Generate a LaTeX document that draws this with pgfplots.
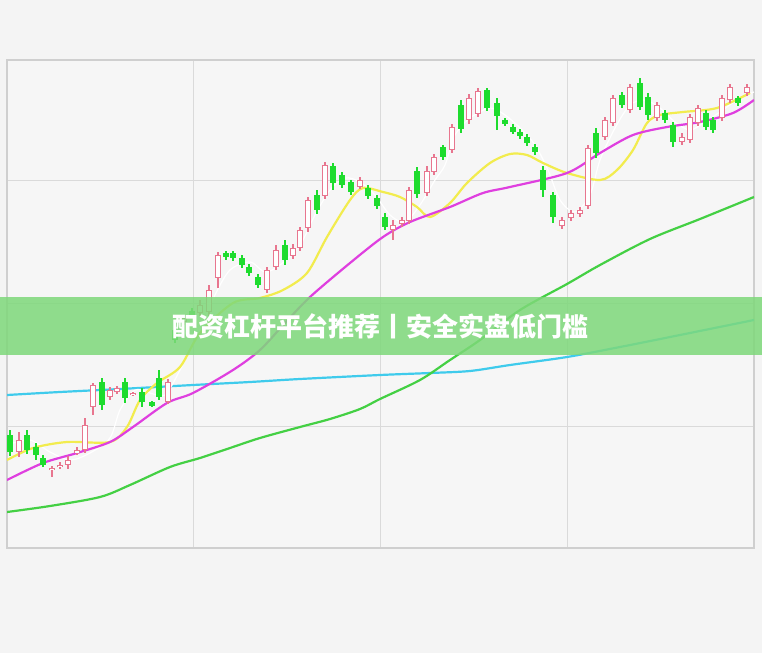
\documentclass[border=0pt]{standalone}
\usepackage{pgfplots}
\pgfplotsset{compat=1.18}
\usepackage{pgfplotstable}
\usepackage{fontspec}
\newfontfamily\cjk{Noto Sans CJK SC}

\definecolor{bgc}{HTML}{F4F4F4}
\definecolor{plotbg}{HTML}{F6F6F6}
\definecolor{framec}{HTML}{CFCFCF}
\definecolor{gridc}{HTML}{DADADA}
\definecolor{upc}{HTML}{E8768F}
\definecolor{downc}{HTML}{1EDC2E}
\definecolor{ma5}{HTML}{FFFFFF}
\definecolor{ma10}{HTML}{F2EC4E}
\definecolor{ma20}{HTML}{DF3FDF}
\definecolor{ma60}{HTML}{44D044}
\definecolor{ma120}{HTML}{3FCBEC}
\definecolor{bannerc}{HTML}{7ED87A}

% candles in pixel units: x, body top, body bottom, wick top, wick bottom
\pgfplotstableread{
x top bot hi lo
19 440 452 432 457
52 468 470 466 477
60 465 467 462 469
68 460 465 456 469
77 450 453 447 455
85 425 450 418 453
93 385 407 383 415
110 390 397 387 400
117 388 392 386 394
133 393 395 392 396
168 382 402 379 404
184 318 322 315 325
200 305 313 300 316
209 290 312 285 316
218 255 278 252 288
267 270 290 267 293
276 250 267 245 270
293 248 256 244 259
300 230 248 227 251
308 200 228 197 232
325 165 196 162 199
360 180 187 177 189
393 225 230 220 240
402 220 224 217 227
409 190 221 187 224
427 171 193 166 196
434 157 172 154 175
452 127 150 124 153
469 98 120 94 124
478 91 114 88 117
562 220 226 217 229
571 213 218 210 221
580 210 214 207 217
588 148 206 145 209
605 120 137 117 140
613 98 123 95 126
630 87 110 84 113
657 105 118 102 121
682 137 142 133 145
690 117 140 114 143
698 108 123 105 126
722 98 118 95 121
730 87 100 84 103
747 87 93 84 96
}\up

\pgfplotstableread{
x top bot hi lo
10 435 452 430 456
27 435 450 430 454
36 447 455 443 460
43 458 465 455 467
102 382 405 378 410
125 382 398 378 403
142 392 402 388 407
152 403 405 401 407
159 378 397 370 400
175 330 340 326 343
192 311 315 308 318
226 253 257 251 260
233 253 258 251 261
242 258 265 255 268
249 267 273 264 276
258 277 285 274 288
285 245 260 240 265
317 195 210 190 214
333 166 183 163 190
342 175 185 172 188
351 182 192 180 195
368 188 196 185 199
377 198 206 195 209
385 217 227 213 230
417 171 194 167 198
443 147 157 145 160
461 105 129 100 133
487 90 108 88 111
497 103 116 98 130
505 120 124 118 126
513 127 132 124 134
520 132 136 129 139
527 137 143 134 146
535 147 152 144 155
543 170 190 166 197
553 195 217 192 223
596 133 153 128 158
622 95 105 92 108
640 83 107 78 110
648 97 115 93 120
665 113 120 110 123
673 125 142 122 147
706 113 127 110 130
713 120 130 117 133
738 98 103 96 106
}\down

\begin{document}
\begin{tikzpicture}[x=1pt,y=1pt]
\fill[bgc] (0,0) rectangle (762,653);
\begin{axis}[
  at={(7pt,105pt)}, anchor=south west,
  scale only axis, width=747pt, height=488pt,
  xmin=7, xmax=754, ymin=60, ymax=548, y dir=reverse,
  axis background/.style={fill=plotbg},
  axis line style={draw=framec, line width=1.6pt},
  xtick={193,380,567}, ytick={180,303,426},
  xticklabels={}, yticklabels={},
  major tick length=0pt,
  grid=major, major grid style={draw=gridc, line width=1pt},
  clip=true,
  candle/.style={draw=none, mark=none, forget plot,
    error bars/y dir=both, error bars/y explicit, error bars/error mark=none},
]
% moving averages
\addplot[ma120, line width=2.2pt, smooth] coordinates {
(7,395) (60,392) (120,389) (193,385) (250,382) (300,379) (380,375) (430,373) (470,371) (510,365) (567,357) (620,347) (680,335) (754,320)};
\addplot[ma60, line width=2.2pt, smooth] coordinates {
(7,512) (50,506) (100,497) (130,485) (170,467) (200,458) (230,448) (260,438) (300,427) (330,419) (360,409) (380,399) (420,380) (450,360) (480,340) (520,310) (567,284) (600,265) (650,239) (700,219) (754,197)};
\addplot[ma5, line width=1.2pt, smooth] coordinates {
(7,445) (30,440) (50,452) (70,460) (90,453) (110,438) (120,410) (135,390) (150,393) (165,395) (180,370) (200,330) (215,295) (230,270) (250,262) (265,272) (280,265) (300,245) (315,215) (330,190) (345,178) (360,182) (375,195) (390,215) (405,222) (420,205) (435,180) (445,165) (455,135) (470,118) (490,108) (505,115) (520,128) (535,145) (548,170) (560,200) (575,212) (590,195) (600,160) (615,128) (630,105) (645,100) (660,108) (675,122) (690,130) (705,122) (720,112) (740,98) (754,92)};
\addplot[ma10, line width=2.2pt, smooth] coordinates {
(7,460) (33,448) (67,442) (110,442) (127,427) (140,400) (157,383) (180,367) (200,333) (233,303) (260,298) (283,290) (307,273) (327,237) (350,200) (363,188) (383,192) (400,197) (417,207) (430,217) (450,203) (467,183) (490,163) (510,154) (527,155) (543,163) (567,173) (600,180) (617,170) (633,150) (647,123) (660,115) (683,112) (717,108) (750,93)};
\addplot[ma20, line width=2.2pt, smooth] coordinates {
(7,480) (43,463) (77,453) (110,442) (133,427) (167,403) (193,393) (233,370) (260,350) (285,323) (310,297) (350,263) (383,237) (410,222) (450,207) (483,193) (510,187) (567,173) (600,153) (633,135) (667,127) (700,122) (733,113) (754,100)};
% wicks
\addplot[candle, error bars/error bar style={draw=upc, line width=1.1pt}]
  table[x=x, y expr={(\thisrow{hi}+\thisrow{lo})/2}, y error expr={(\thisrow{lo}-\thisrow{hi})/2}] {\up};
\addplot[candle, error bars/error bar style={draw=downc, line width=1.1pt}]
  table[x=x, y expr={(\thisrow{hi}+\thisrow{lo})/2}, y error expr={(\thisrow{lo}-\thisrow{hi})/2}] {\down};
% hollow up bodies
\addplot[candle, error bars/error bar style={draw=upc, line width=6.4pt}]
  table[x=x, y expr={(\thisrow{top}+\thisrow{bot})/2}, y error expr={max((\thisrow{bot}-\thisrow{top})/2,1.4)}] {\up};
\addplot[candle, error bars/error bar style={draw=white, line width=4pt}]
  table[x=x, y expr={(\thisrow{top}+\thisrow{bot})/2}, y error expr={max((\thisrow{bot}-\thisrow{top})/2-1.2,0.2)}] {\up};
% filled down bodies
\addplot[candle, error bars/error bar style={draw=downc, line width=6.2pt}]
  table[x=x, y expr={(\thisrow{top}+\thisrow{bot})/2}, y error expr={max((\thisrow{bot}-\thisrow{top})/2,1.8)}] {\down};
\end{axis}
\fill[bannerc, opacity=0.85] (0,298) rectangle (762,356);
\node[text=white, font=\cjk\bfseries\fontsize{26}{31}\selectfont, inner sep=0pt] at (380,327) {配资杠杆平台推荐丨安全实盘低门槛};
\pgfresetboundingbox
\useasboundingbox (0,0) rectangle (762,653);
\end{tikzpicture}
\end{document}
